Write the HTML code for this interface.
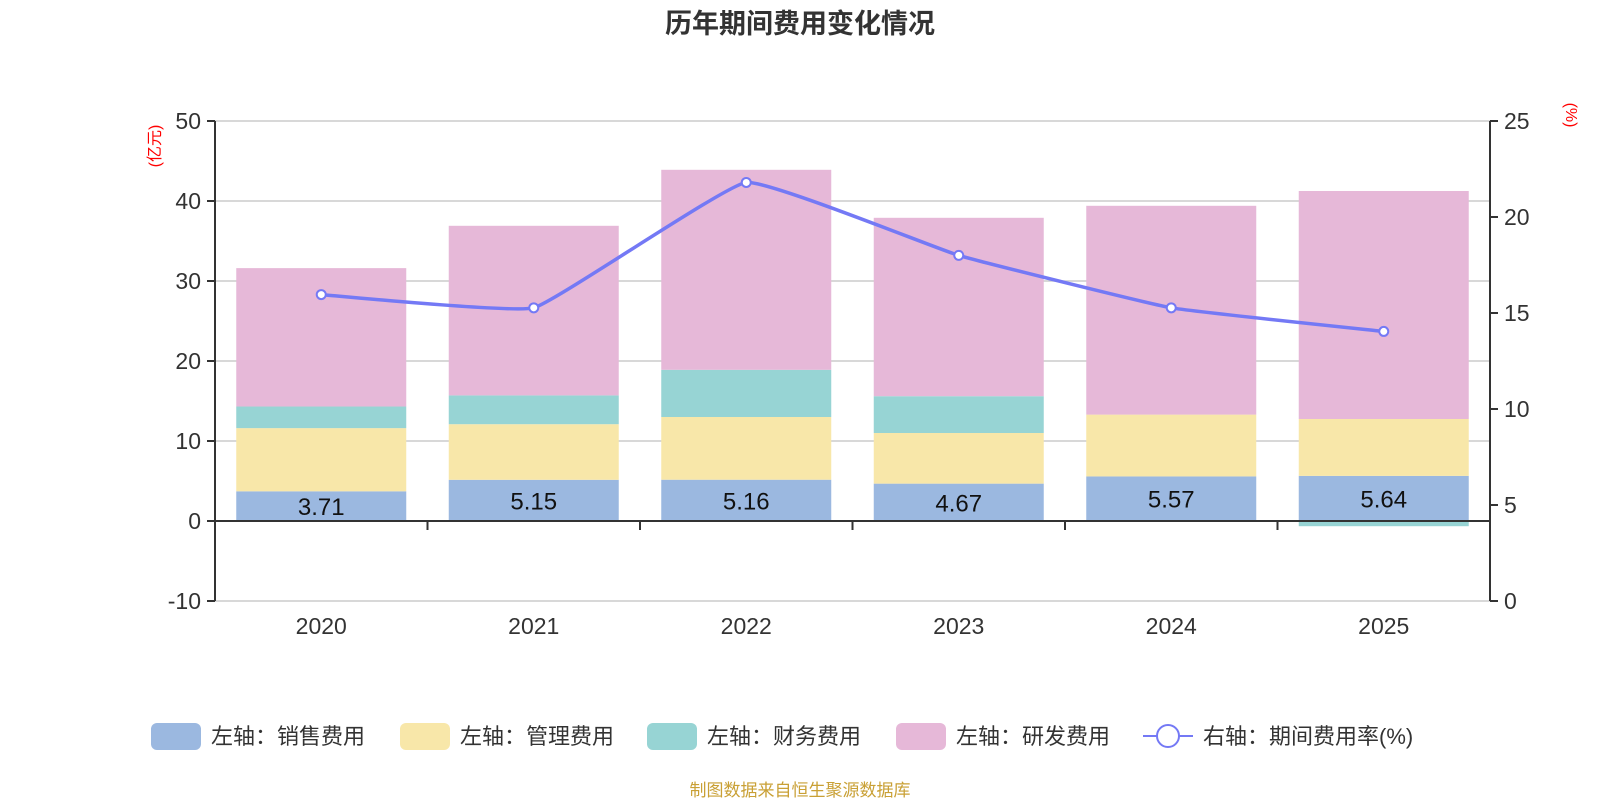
<!DOCTYPE html>
<html><head><meta charset="utf-8">
<style>
html,body{margin:0;padding:0;background:#fff;}
body{width:1600px;height:800px;overflow:hidden;font-family:"Liberation Sans","Noto Sans CJK SC",sans-serif;}
svg text{font-family:"Liberation Sans","Noto Sans CJK SC",sans-serif;}
</style></head>
<body>
<svg id="chart" width="1600" height="800" xmlns="http://www.w3.org/2000/svg">
<text x="800" y="33" text-anchor="middle" font-size="27" font-weight="bold" fill="#333">历年期间费用变化情况</text>
<g id="grid"></g><g id="bars"></g><g id="axes"></g><g id="line"></g><g id="legend"></g>
<text transform="translate(160,146) rotate(-90)" text-anchor="middle" font-size="16" fill="#f00">(亿元)</text>
<text transform="translate(1566,115) rotate(90)" text-anchor="middle" font-size="16" fill="#f00">(%)</text>
<text x="800" y="796" text-anchor="middle" font-size="17" fill="#c9a035">制图数据来自恒生聚源数据库</text>
</svg>
<script>
const categories=["2020","2021","2022","2023","2024","2025"];
const sales=[3.71,5.15,5.16,4.67,5.57,5.64];
const admin=[7.9,6.95,7.84,6.33,7.73,7.11];
const finance=[2.7,3.6,5.9,4.6,-0.05,-0.65];
const rd=[17.3,21.2,25.0,22.3,26.1,28.5];
const rate=[15.96,15.27,21.8,18.0,15.27,14.04];
const leftTicks=[-10,0,10,20,30,40,50];
const rightTicks=[0,5,10,15,20,25];
const seriesNames=["左轴：销售费用","左轴：管理费用","左轴：财务费用","左轴：研发费用"];
const lineName="右轴：期间费用率(%)";

const NS="http://www.w3.org/2000/svg";
const X0=215,X1=1490,YT=121,YB=601;
const cw=(X1-X0)/categories.length;
const yL=v=>YT+(50-v)/60*(YB-YT);
const yR=v=>YT+(25-v)/25*(YB-YT);
const xC=i=>X0+cw*(i+0.5);
function mk(tag,attrs,parent,txt){const e=document.createElementNS(NS,tag);for(const k in attrs)e.setAttribute(k,attrs[k]);if(txt!==undefined)e.textContent=txt;document.getElementById(parent).appendChild(e);return e;}
const colors=["#9bb8e0","#f8e7a9","#97d4d4","#e6b8d8"];
leftTicks.forEach(t=>{
  const g=mk('line',{x1:X0,x2:X1,y1:yL(t),y2:yL(t),stroke:'#ccc','stroke-width':1.5},'grid');
  
  
  const tk=mk('line',{x1:X0-8,x2:X0,y1:yL(t),y2:yL(t),stroke:'#333','stroke-width':2},'axes');
  
  
  const lb=mk('text',{x:X0-14,y:yL(t)+8,'text-anchor':'end','font-size':23,fill:'#333'},'axes',String(t));
  
  
});
rightTicks.forEach(t=>{
  const tk=mk('line',{x1:X1,x2:X1+8,y1:yR(t),y2:yR(t),stroke:'#333','stroke-width':2},'axes');
  
  
  const lb=mk('text',{x:X1+14,y:yR(t)+8,'font-size':23,fill:'#333'},'axes',String(t));
  
  
});
const series=[sales,admin,finance,rd];
categories.forEach((c,i)=>{
  let pos=0,neg=0;const bw=170,bx=xC(i)-bw/2;
  series.forEach((s,k)=>{
    const v=s[i];let y0,y1;
    if(v>=0){y0=pos;y1=pos+v;pos=y1;}else{y0=neg;y1=neg+v;neg=y1;}
    const top=yL(Math.max(y0,y1)),bot=yL(Math.min(y0,y1));
    const r=mk('rect',{x:bx,y:top,width:bw,height:Math.max(bot-top,0.5),fill:colors[k]},'bars');
    
    
  });
  const lb=mk('text',{x:xC(i),y:(yL(0)+yL(sales[i]))/2+9,'text-anchor':'middle','font-size':24,fill:'#111'},'bars',sales[i].toFixed(2));
  
  
  const xl=mk('text',{x:xC(i),y:YB+33,'text-anchor':'middle','font-size':23,fill:'#333'},'axes',c);
  
  
  if(i>0){const t=mk('line',{x1:X0+cw*i,x2:X0+cw*i,y1:yL(0),y2:yL(0)+9,stroke:'#333','stroke-width':2},'axes');
  
  }
});
const za=mk('line',{x1:X0,x2:X1,y1:yL(0),y2:yL(0),stroke:'#333','stroke-width':2},'axes');


const la=mk('line',{x1:X0,x2:X0,y1:YT,y2:YB,stroke:'#333','stroke-width':2},'axes');


const ra=mk('line',{x1:X1,x2:X1,y1:YT,y2:YB,stroke:'#333','stroke-width':2},'axes');


const pts=rate.map((v,i)=>[xC(i),yR(v)]);
let d='M'+pts[0].join(',');
for(let i=0;i<pts.length-1;i++){const p0=pts[Math.max(i-1,0)],p1=pts[i],p2=pts[i+1],p3=pts[Math.min(i+2,pts.length-1)];const s=0.05;
d+=` C${p1[0]+(p2[0]-p0[0])*s},${p1[1]+(p2[1]-p0[1])*s} ${p2[0]-(p3[0]-p1[0])*s},${p2[1]-(p3[1]-p1[1])*s} ${p2[0]},${p2[1]}`;}
const pl=mk('path',{d:d,fill:'none',stroke:'#7479f5','stroke-width':3.5},'line');


pts.forEach(p=>{const c=mk('circle',{cx:p[0],cy:p[1],r:4.5,fill:'#fff',stroke:'#7479f5','stroke-width':2},'line');

});
const lx=[151,400,647,896];
seriesNames.forEach((n,k)=>{
  const r=mk('rect',{x:lx[k],y:723,width:50,height:27,rx:6,fill:colors[k]},'legend');
  
  
  const t=mk('text',{x:lx[k]+60,y:744,'font-size':22,fill:'#333'},'legend',n);
  
  
});
const ll=mk('line',{x1:1143,x2:1193,y1:736,y2:736,stroke:'#7479f5','stroke-width':2},'legend');


const lc=mk('circle',{cx:1168,cy:736,r:11,fill:'#fff',stroke:'#7479f5','stroke-width':2},'legend');


const lt=mk('text',{x:1203,y:744,'font-size':22,fill:'#333'},'legend',lineName);


</script>
</body></html>
